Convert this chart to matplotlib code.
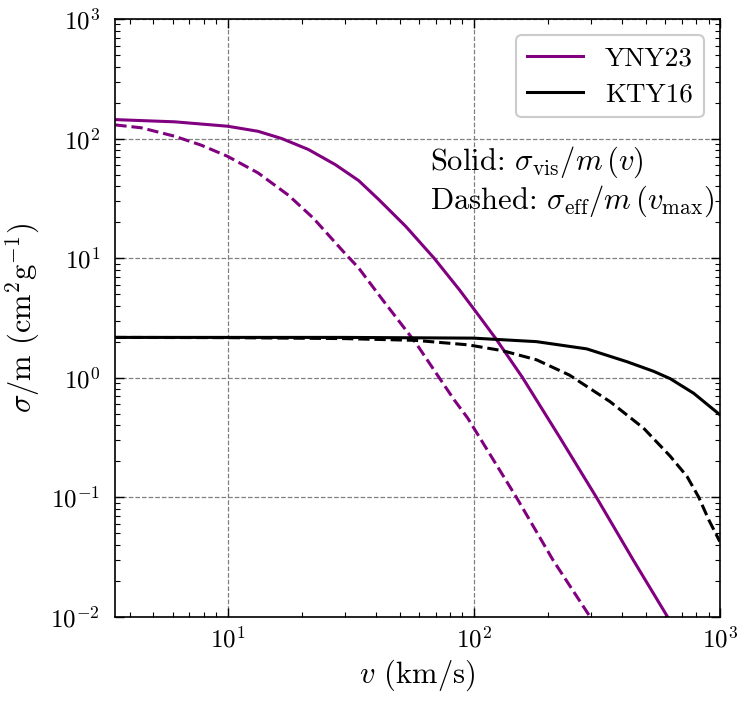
import matplotlib
matplotlib.use("Agg")
import matplotlib.pyplot as plt
import numpy as np

# values (v in km/s, sigma/m in cm^2/g)
v_yny_vis = [3.5, 6.1, 10.0, 13.3, 16.6, 21.3, 27.4, 34.1, 41.2, 53.0, 69.2, 87.5, 105.5, 123.0, 158.0, 223.0, 315.0, 445.0, 613.0]
s_yny_vis = [144.0, 138.0, 126.8, 115.0, 100.0, 81.0, 60.5, 44.5, 30.8, 18.4, 9.93, 5.43, 3.25, 2.12, 1.0, 0.32, 0.1, 0.0298, 0.01]

v_yny_eff = [3.5, 4.46, 6.1, 7.83, 10.0, 13.3, 17.7, 22.3, 29.7, 34.1, 42.6, 58.2, 72.4, 83.4, 94.6, 149.0, 210.0, 297.0]
s_yny_eff = [130.0, 123.0, 104.5, 87.9, 71.0, 51.6, 33.5, 21.6, 11.2, 8.26, 4.49, 1.95, 1.0, 0.65, 0.458, 0.1, 0.0298, 0.01]

v_kty_vis = [3.5, 10.0, 30.0, 100.0, 180.0, 288.0, 419.0, 538.0, 629.0, 783.0, 1000.0]
s_kty_vis = [2.17, 2.17, 2.17, 2.14, 2.0, 1.74, 1.36, 1.13, 0.98, 0.74, 0.49]

v_kty_eff = [3.5, 10.0, 30.0, 58.0, 95.0, 131.0, 180.0, 245.0, 358.0, 490.0, 629.0, 736.0, 821.0, 902.0, 1000.0]
s_kty_eff = [2.17, 2.16, 2.12, 2.05, 1.88, 1.68, 1.41, 1.05, 0.63, 0.378, 0.22, 0.149, 0.1, 0.0646, 0.0425]

plt.rcParams['font.family'] = 'serif'
plt.rcParams['font.serif'] = ['cmr10']
plt.rcParams['mathtext.fontset'] = 'cm'
plt.rcParams['axes.formatter.use_mathtext'] = True

fig, ax = plt.subplots(figsize=(7.49, 7.04), dpi=100)
fig.subplots_adjust(left=0.154, right=0.961, top=0.973, bottom=0.124)

purple = '#800080'
ax.plot(v_yny_vis, s_yny_vis, color=purple, lw=2.2, label='YNY23')
ax.plot(v_yny_eff, s_yny_eff, color=purple, lw=2.2, ls='--')
ax.plot(v_kty_vis, s_kty_vis, color='black', lw=2.2, label='KTY16')
ax.plot(v_kty_eff, s_kty_eff, color='black', lw=2.2, ls='--')

ax.set_xscale('log')
ax.set_yscale('log')
ax.set_xlim(3.5, 1000)
ax.set_ylim(1e-2, 1e3)

ax.grid(True, which='major', ls='--', color='gray', lw=0.9)
ax.tick_params(which='both', direction='in', top=True, right=True, labelsize=18)
ax.tick_params(which='major', length=6.5, width=1.0)
ax.tick_params(which='minor', length=3.5, width=0.8)
ax.tick_params(axis='x', which='major', pad=7)
ax.tick_params(axis='y', which='major', pad=11)
for sp in ax.spines.values():
    sp.set_linewidth(1.2)

ax.set_xlabel(r'$v$ (km/s)', fontsize=22)
ax.set_ylabel(r'$\sigma$/m (cm$^2$g$^{-1}$)', fontsize=22, labelpad=6)

ax.text(0.52, 0.79, r'Solid: $\sigma_{\rm vis}/m\,(v)$' + '\n' + r'Dashed: $\sigma_{\rm eff}/m\,(v_{\rm max})$',
        transform=ax.transAxes, fontsize=22, va='top', ha='left', linespacing=1.15)

leg = ax.legend(loc='upper right', fontsize=19.5, fancybox=True, framealpha=1.0,
                edgecolor='#cccccc', handlelength=2.07, handletextpad=0.8,
                labelspacing=0.45, borderpad=0.4, borderaxespad=0.6)
leg.get_frame().set_linewidth(1.5)

fig.savefig('out.png', dpi=100)
